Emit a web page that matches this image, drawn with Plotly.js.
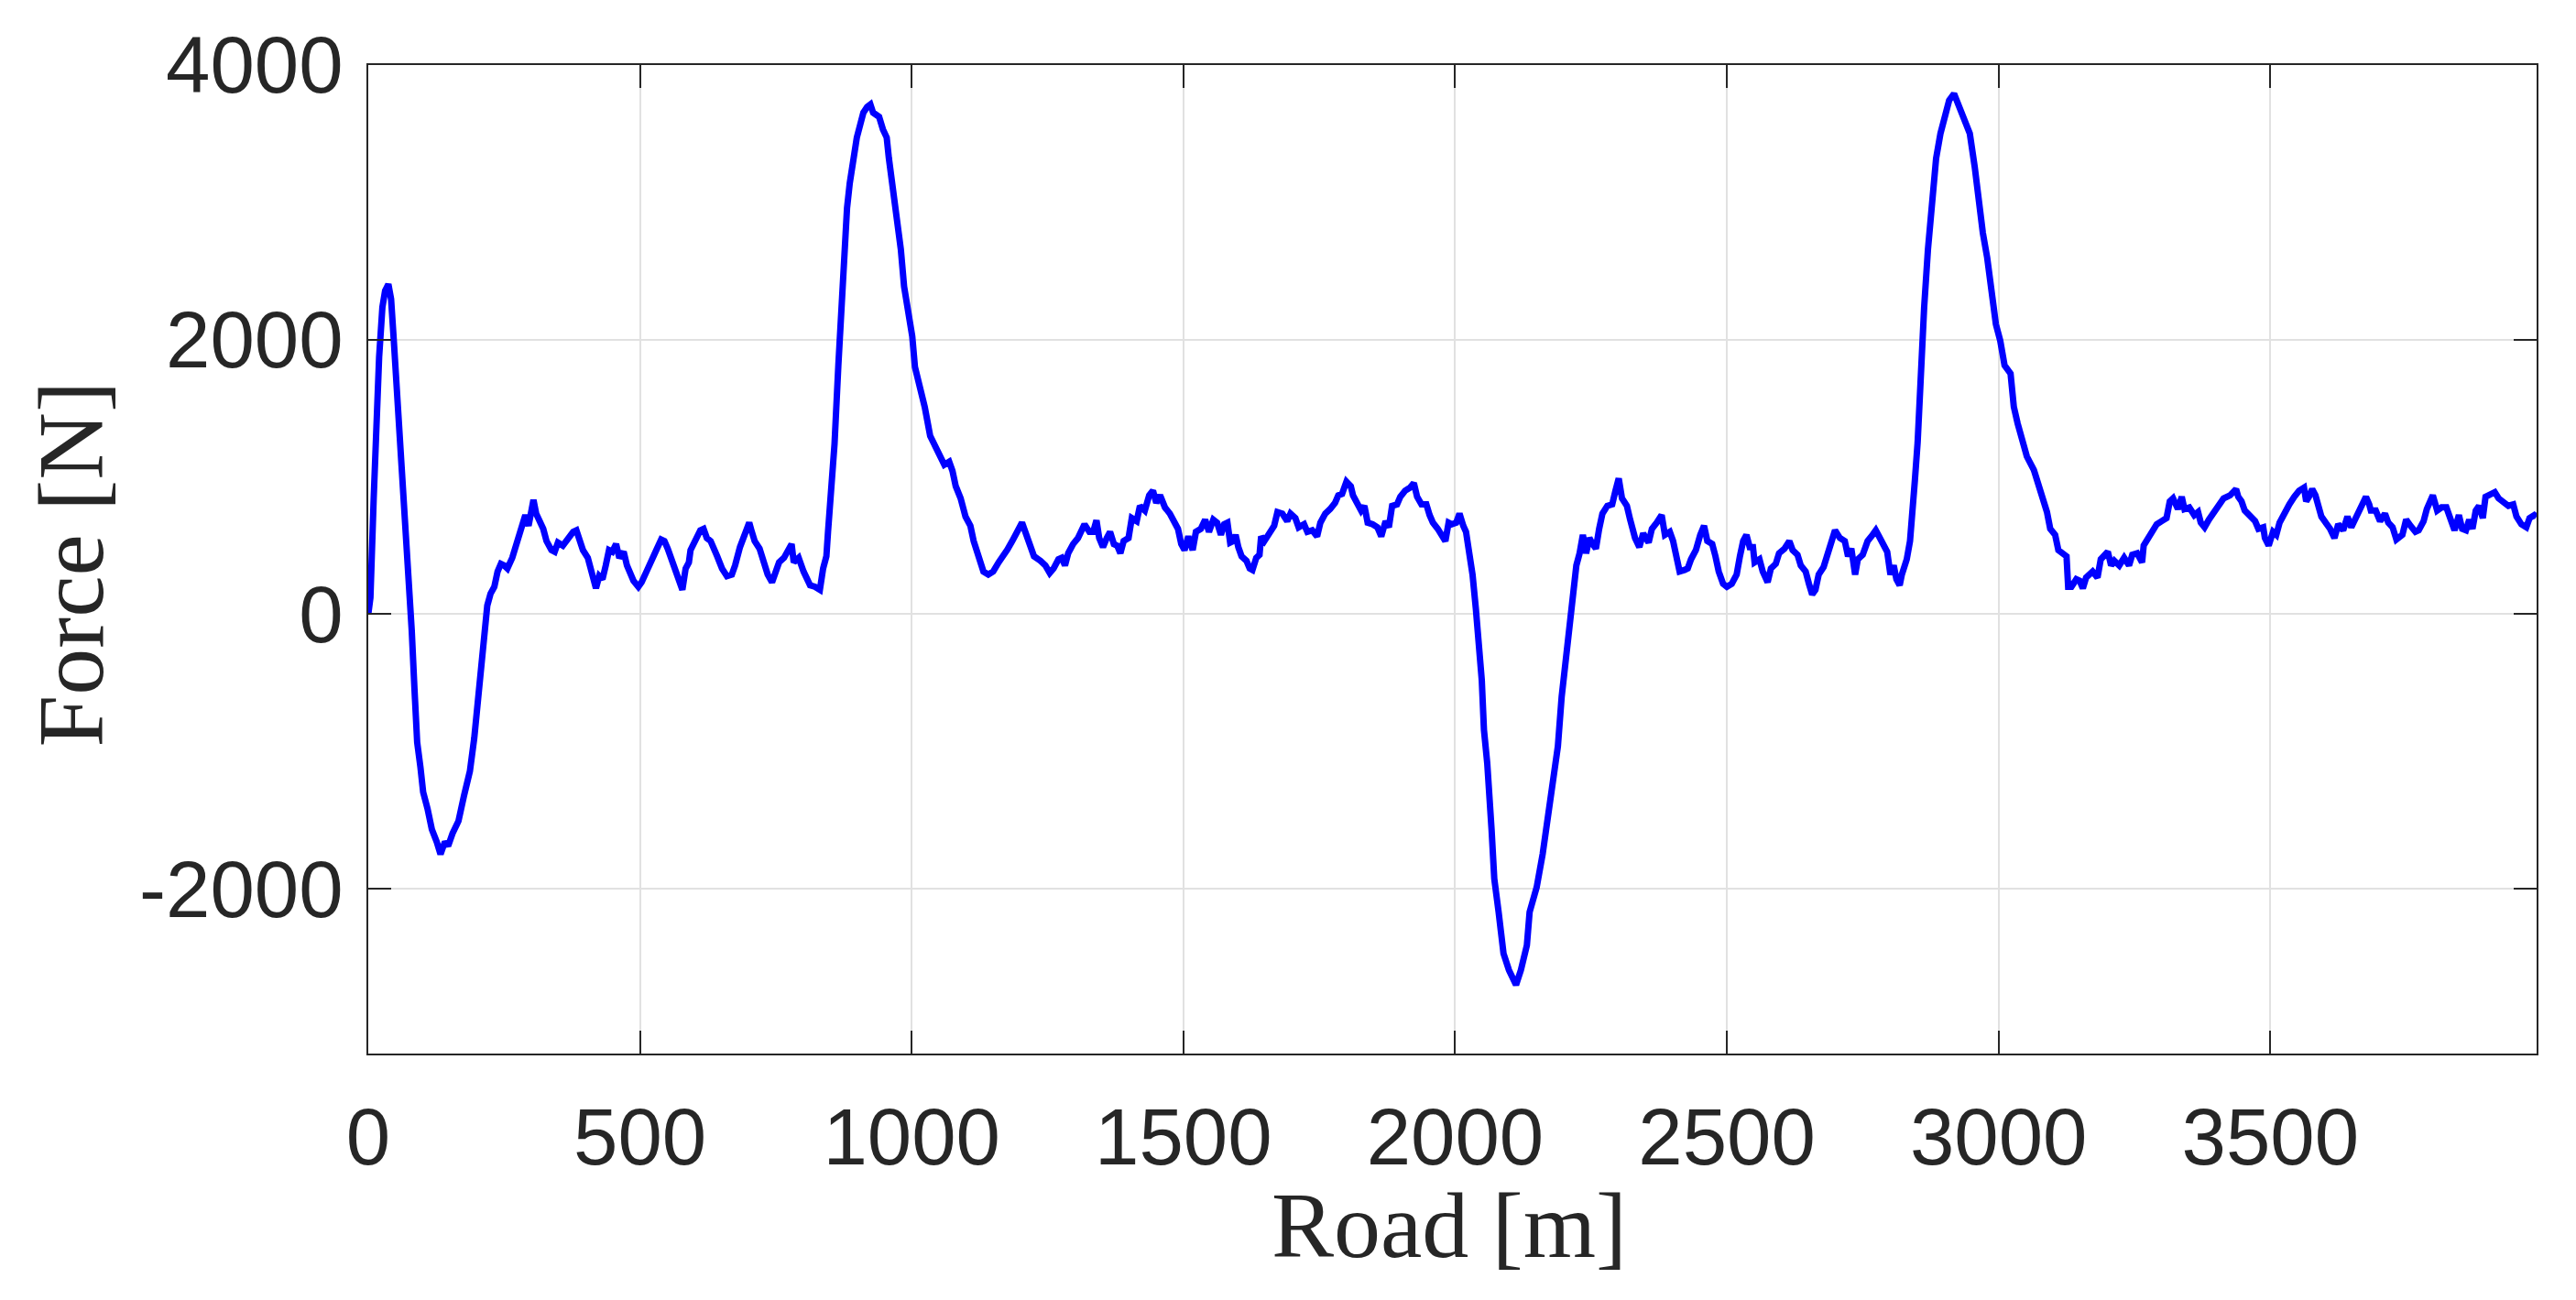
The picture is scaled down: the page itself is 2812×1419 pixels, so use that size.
<!DOCTYPE html>
<html>
<head>
<meta charset="utf-8">
<script src="https://cdn.plot.ly/plotly-3.0.1.min.js"></script>
<style>
  html, body { margin: 0; padding: 0; background: #ffffff; }
  #chart { width: 2812px; height: 1419px; }
</style>
</head>
<body>
<div id="chart"></div>
<script>
// Road position [m]
const road = [
  0, 4, 10, 15, 20, 26, 31, 37, 42, 47, 53, 58, 63, 69, 74, 80, 85, 90, 96, 101,
  109, 117, 126, 133, 141, 147, 155, 166, 176, 187, 195, 203, 212, 219, 225, 232, 238, 244, 250, 256,
  265, 274, 283, 289, 295, 299, 304, 309, 316, 322, 328, 337, 343, 349, 358, 368, 377, 383, 389, 395,
  404, 410, 419, 425, 431, 437, 443, 449, 456, 462, 470, 476, 482, 488, 497, 503, 512, 521, 530, 539,
  545, 551, 557, 566, 572, 578, 584, 590, 593, 602, 611, 617, 623, 630, 636, 642, 651, 660, 669, 675,
  684, 693, 701, 705, 711, 720, 726, 735, 743, 750, 756, 765, 774, 779, 783, 792, 801, 807, 813, 822,
  831, 837, 843, 846, 852, 858, 865, 870, 875, 881, 886, 892, 899, 905, 911, 918, 924, 929, 940, 947,
  954, 958, 965, 972, 980, 986, 994, 1001, 1006, 1013, 1024, 1034, 1044, 1051, 1060, 1069, 1075, 1081, 1090, 1099,
  1108, 1114, 1120, 1126, 1132, 1141, 1150, 1160, 1169, 1176, 1185, 1194, 1203, 1209, 1216, 1225, 1237, 1246, 1254, 1261,
  1270, 1276, 1282, 1288, 1297, 1306, 1318, 1327, 1334, 1340, 1345, 1352, 1359, 1365, 1372, 1378, 1384, 1390, 1399, 1405,
  1414, 1420, 1429, 1437, 1444, 1450, 1457, 1466, 1475, 1484, 1490, 1496, 1502, 1509, 1517, 1523, 1532, 1540, 1547, 1555,
  1562, 1569, 1575, 1581, 1586, 1592, 1596, 1601, 1607, 1616, 1622, 1627, 1634, 1640, 1643, 1649, 1658, 1667, 1673, 1682,
  1691, 1697, 1706, 1712, 1722, 1728, 1737, 1746, 1752, 1761, 1770, 1779, 1785, 1792, 1800, 1808, 1812, 1821, 1827, 1833,
  1839, 1848, 1857, 1864, 1872, 1878, 1884, 1893, 1899, 1908, 1917, 1924, 1930, 1938, 1947, 1953, 1959, 1968, 1974, 1982,
  1988, 1994, 2002, 2008, 2015, 2020, 2026, 2032, 2038, 2044, 2049, 2053, 2059, 2067, 2072, 2080, 2089, 2099, 2112, 2121,
  2132, 2137, 2150, 2161, 2169, 2180, 2189, 2196, 2204, 2211, 2217, 2223, 2229, 2235, 2241, 2247, 2253, 2259, 2265, 2271,
  2280, 2289, 2295, 2301, 2307, 2316, 2322, 2331, 2339, 2346, 2356, 2362, 2371, 2380, 2386, 2395, 2401, 2407, 2413, 2422,
  2428, 2434, 2443, 2451, 2458, 2464, 2473, 2479, 2485, 2493, 2500, 2509, 2518, 2524, 2530, 2536, 2542, 2548, 2551, 2560,
  2566, 2575, 2581, 2590, 2596, 2606, 2615, 2621, 2630, 2636, 2645, 2651, 2657, 2663, 2669, 2678, 2684, 2693, 2699, 2708,
  2717, 2723, 2729, 2736, 2741, 2750, 2759, 2768, 2774, 2780, 2789, 2795, 2801, 2807, 2812, 2818, 2822, 2831, 2837, 2843,
  2846, 2851, 2855, 2858, 2863, 2870, 2877, 2885, 2893, 2902, 2909, 2918, 2926, 2936, 2947, 2956, 2963, 2971, 2979, 2988,
  2995, 3003, 3011, 3022, 3028, 3035, 3044, 3052, 3065, 3074, 3080, 3089, 3095, 3104, 3110, 3119, 3125, 3128, 3134, 3143,
  3149, 3155, 3161, 3173, 3182, 3188, 3195, 3201, 3207, 3213, 3222, 3231, 3240, 3246, 3255, 3264, 3267, 3276, 3282, 3291,
  3300, 3309, 3315, 3321, 3330, 3337, 3342, 3351, 3360, 3367, 3372, 3379, 3387, 3396, 3405, 3414, 3426, 3437, 3441, 3447,
  3453, 3463, 3472, 3478, 3487, 3490, 3497, 3505, 3511, 3517, 3526, 3535, 3544, 3553, 3562, 3566, 3571, 3577, 3583, 3589,
  3594, 3604, 3610, 3618, 3625, 3634, 3642, 3649, 3658, 3667, 3676, 3682, 3685, 3694, 3702, 3711, 3717, 3725, 3732, 3743,
  3750, 3758, 3767, 3773, 3782, 3788, 3799, 3807, 3815, 3824, 3830, 3839, 3847, 3853, 3860, 3866, 3872, 3878, 3884, 3891,
  3896, 3905, 3913, 3920, 3929, 3938, 3947, 3953, 3962, 3971, 3977, 3986, 3990
];

// Force [N]
const force = [
  0, 121, 845, 1451, 1873, 2235, 2356, 2404, 2295, 1994, 1632, 1330, 968, 666, 304, -119, -541, -933, -1114, -1295,
  -1416, -1567, -1658, -1748, -1658, -1688, -1597, -1506, -1325, -1144, -903, -541, -239, 63, 150, 200, 311, 367, 355, 333,
  411, 533, 622, 722, 644, 767, 833, 733, 667, 622, 533, 467, 455, 522, 500, 555, 600, 611, 544, 467,
  411, 311, 189, 278, 255, 355, 467, 455, 511, 411, 455, 355, 289, 244, 200, 233, 311, 378, 467, 544,
  533, 478, 411, 333, 278, 178, 333, 378, 467, 533, 611, 622, 555, 533, 489, 422, 333, 278, 289, 355,
  489, 578, 667, 611, 533, 478, 400, 289, 233, 333, 378, 411, 467, 511, 378, 411, 311, 267, 211, 200,
  178, 333, 422, 600, 933, 1240, 1812, 2174, 2597, 2959, 3140, 3321, 3472, 3562, 3653, 3695, 3713, 3653, 3623, 3532,
  3472, 3321, 3110, 2869, 2657, 2386, 2205, 2024, 1800, 1691, 1509, 1298, 1208, 1155, 1089, 1111, 1044, 933, 844, 711,
  644, 533, 444, 355, 311, 289, 311, 378, 422, 470, 533, 600, 667, 600, 511, 422, 389, 355, 300, 333,
  400, 411, 355, 444, 511, 555, 655, 600, 600, 684, 555, 489, 555, 600, 511, 500, 444, 533, 555, 700,
  678, 789, 755, 866, 900, 811, 866, 778, 733, 667, 622, 511, 467, 567, 467, 600, 622, 689, 600, 689,
  667, 578, 655, 667, 522, 533, 578, 489, 422, 389, 333, 322, 411, 433, 567, 533, 600, 644, 744, 733,
  678, 733, 700, 633, 655, 600, 611, 567, 667, 733, 766, 811, 866, 877, 966, 933, 866, 800, 755, 789,
  667, 655, 633, 567, 678, 633, 789, 800, 855, 900, 922, 955, 855, 800, 800, 722, 667, 622, 578, 533,
  667, 655, 667, 733, 644, 600, 444, 289, 44, -244, -480, -842, -1084, -1567, -1927, -2170, -2471, -2592, -2700, -2592,
  -2411, -2170, -1989, -1747, -1506, -1205, -963, -601, -299, -22, 200, 355, 444, 578, 444, 555, 511, 478, 622, 733,
  789, 800, 900, 989, 844, 789, 689, 555, 489, 589, 522, 622, 667, 722, 578, 600, 533, 411, 311, 322,
  333, 400, 467, 578, 644, 533, 511, 422, 311, 222, 200, 222, 289, 422, 533, 578, 489, 489, 378, 400,
  311, 233, 333, 367, 444, 478, 533, 467, 433, 355, 311, 222, 144, 178, 289, 344, 422, 533, 611, 555,
  533, 422, 478, 289, 400, 433, 533, 578, 611, 567, 511, 455, 289, 355, 255, 211, 289, 400, 533, 778,
  978, 1250, 1600, 1933, 2235, 2657, 2960, 3320, 3501, 3622, 3743, 3791, 3713, 3622, 3501, 3260, 3019, 2777, 2597, 2295,
  2113, 1993, 1813, 1753, 1511, 1390, 1269, 1149, 1050, 933, 822, 744, 622, 578, 467, 433, 422, 200, 200, 255,
  244, 189, 267, 311, 267, 400, 422, 455, 355, 389, 355, 411, 355, 433, 444, 378, 500, 555, 600, 655,
  678, 700, 822, 844, 766, 855, 766, 778, 722, 744, 667, 633, 689, 744, 778, 844, 866, 911, 855, 822,
  755, 722, 678, 622, 633, 555, 500, 600, 578, 667, 744, 800, 855, 900, 922, 822, 855, 911, 866, 800,
  711, 655, 622, 555, 655, 611, 711, 633, 700, 789, 855, 800, 755, 755, 678, 733, 667, 633, 544, 578,
  689, 644, 600, 611, 678, 766, 866, 755, 778, 778, 722, 611, 722, 622, 611, 689, 622, 755, 789, 700,
  855, 877, 889, 844, 811, 789, 800, 711, 655, 633, 700, 722, 711
];

const xTickVals = [0, 500, 1000, 1500, 2000, 2500, 3000, 3500];
const yTickVals = [-2000, 0, 2000, 4000];
const xTitle = 'Road [m]';
const yTitle = 'Force [N]';

const axisColor = '#262626';
const gridColor = '#e1e1e1';
const titleFont = { family: 'Liberation Serif, Times New Roman, serif', size: 102, color: axisColor };
const tickFont = { family: 'Liberation Sans, Arial, sans-serif', size: 87, color: axisColor };

const trace = {
  x: road,
  y: force,
  type: 'scatter',
  mode: 'lines',
  line: { color: '#0000ff', width: 7 },
  hoverinfo: 'skip'
};

const commonAxis = {
  showgrid: true,
  gridcolor: gridColor,
  gridwidth: 2,
  zeroline: false,
  showline: true,
  linecolor: axisColor,
  linewidth: 2,
  mirror: 'ticks',
  ticks: 'inside',
  ticklen: 25,
  tickwidth: 2,
  tickcolor: axisColor,
  tickfont: tickFont
};

const layout = {
  width: 2812,
  height: 1419,
  paper_bgcolor: '#ffffff',
  plot_bgcolor: '#ffffff',
  showlegend: false,
  margin: { l: 402, r: 43, t: 71, b: 269, pad: 0 },
  xaxis: Object.assign({}, commonAxis, {
    range: [0, 3990],
    tickvals: xTickVals,
    ticktext: xTickVals.map(String),
    ticklabelstandoff: 15
  }),
  yaxis: Object.assign({}, commonAxis, {
    range: [-3200, 4000],
    tickvals: yTickVals,
    ticktext: yTickVals.map(String),
    ticklabelstandoff: 8
  }),
  annotations: [
    {
      text: xTitle,
      xref: 'paper', yref: 'paper',
      x: 0.4985, y: -0.1196,
      xanchor: 'center', yanchor: 'top',
      showarrow: false,
      font: titleFont
    },
    {
      text: yTitle,
      xref: 'paper', yref: 'paper',
      x: -0.1371, y: 0.4949,
      xanchor: 'center', yanchor: 'middle',
      textangle: -90,
      showarrow: false,
      font: titleFont
    }
  ]
};

Plotly.newPlot('chart', [trace], layout, { staticPlot: true, displayModeBar: false });
</script>
</body>
</html>
